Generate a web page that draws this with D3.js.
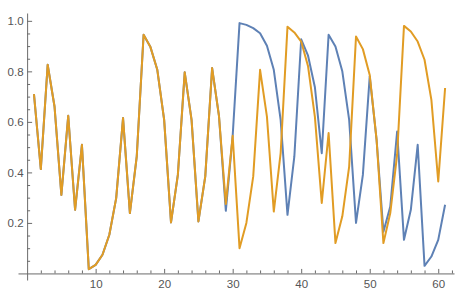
<!DOCTYPE html>
<html><head><meta charset="utf-8">
<script src="https://cdn.jsdelivr.net/npm/d3@7"></script>
<style>
html,body{margin:0;padding:0;background:#fff;}
svg{display:block;}
.axis text{font-family:"Liberation Sans",Arial,sans-serif;font-size:11.5px;fill:#555;}
.axis path,.axis line{stroke:#6b6b6b;stroke-width:1;}
</style></head>
<body>
<script>
const seriesBlue = [0.71,0.413,0.826,0.661,0.311,0.624,0.252,0.509,0.017,0.034,
  0.074,0.153,0.298,0.615,0.239,0.463,0.945,0.896,0.806,0.608,
  0.202,0.39,0.796,0.608,0.206,0.384,0.813,0.624,0.248,0.545,
  0.991,0.984,0.971,0.951,0.901,0.806,0.608,0.232,0.463,0.927,
  0.862,0.737,0.476,0.945,0.898,0.80,0.608,0.20,0.39,0.78,
  0.53,0.165,0.265,0.562,0.133,0.252,0.509,0.03,0.067,0.133,0.272];
const seriesOrange = [0.71,0.413,0.826,0.661,0.311,0.624,0.252,0.509,0.017,0.034,
  0.074,0.153,0.298,0.615,0.239,0.463,0.945,0.896,0.806,0.608,
  0.202,0.39,0.796,0.608,0.206,0.384,0.813,0.624,0.275,0.545,
  0.10,0.20,0.384,0.806,0.621,0.245,0.476,0.977,0.954,0.918,
  0.82,0.62,0.279,0.556,0.12,0.226,0.423,0.938,0.888,0.786,
  0.53,0.12,0.239,0.47,0.98,0.958,0.918,0.846,0.687,0.364,0.734];
const xMajorTicks = [10,20,30,40,50,60];
const xMinorTicks = [2,4,6,8,12,14,16,18,22,24,26,28,32,34,36,38,42,44,46,48,52,54,56,58,62];
const yMajorTicks = [0.2,0.4,0.6,0.8,1.0];
const yMinorTicks = [0.05,0.1,0.15,0.25,0.3,0.35,0.45,0.5,0.55,0.65,0.7,0.75,0.85,0.9,0.95];
const colors = ["#5E81B5","#E19C24"];

const W = 469, H = 297;
const svg = d3.select("body").append("svg").attr("width",W).attr("height",H);
const x = d3.scaleLinear().domain([-1.33,62.3]).range([18,454]);
const y = d3.scaleLinear().domain([-0.026,1.031]).range([280,13]);

// y axis
const gy = svg.append("g").attr("class","axis").attr("transform",`translate(${x(0)},0)`);
gy.call(d3.axisLeft(y).tickValues(yMajorTicks).tickFormat(d3.format(".1f"))
  .tickSizeInner(-5).tickSizeOuter(0).tickPadding(3.5));
svg.append("g").attr("class","axis").attr("transform",`translate(${x(0)},0)`)
  .call(d3.axisLeft(y).tickValues(yMinorTicks).tickFormat("").tickSizeInner(-3).tickSizeOuter(0))
  .select(".domain").remove();

// x axis
const gx = svg.append("g").attr("class","axis").attr("transform",`translate(0,${y(0)})`);
gx.call(d3.axisBottom(x).tickValues(xMajorTicks).tickFormat(d3.format("d"))
  .tickSizeInner(-4.5).tickSizeOuter(0).tickPadding(6));
svg.append("g").attr("class","axis").attr("transform",`translate(0,${y(0)})`)
  .call(d3.axisBottom(x).tickValues(xMinorTicks).tickFormat("").tickSizeInner(-3).tickSizeOuter(0))
  .select(".domain").remove();

const line = d3.line().x((d,i)=>x(i+1)).y(d=>y(d));
[seriesBlue, seriesOrange].forEach((s,k)=>{
  svg.append("path").datum(s).attr("d",line)
    .attr("fill","none").attr("stroke",colors[k]).attr("stroke-width",2)
    .attr("stroke-linejoin","round");
});
</script>
</body></html>
